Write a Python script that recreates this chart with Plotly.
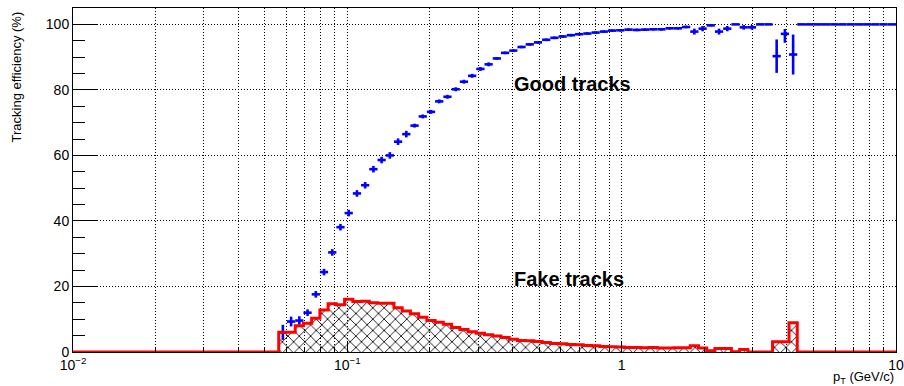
import numpy as np
import plotly.graph_objects as go

# ---- binning: 100 log bins from 1e-2 to 1e1 GeV/c ----
n_bins = 100
log_lo, log_hi = -2.0, 1.0

# ---- Good tracks efficiency (%) for bins 25..99 ----
good_first_bin = 25
good_eff = [6.0, 9.3, 9.6, 12.0, 17.6, 24.4, 30.4, 38.1, 42.4, 48.4,
            50.9, 55.8, 58.6, 60.0, 64.2, 66.5, 69.1, 71.9, 73.3, 76.5,
            77.9, 80.2, 82.5, 84.3, 86.4, 87.8, 89.6, 91.3, 92.0, 93.1,
            93.9, 94.5, 95.3, 95.9, 96.3, 96.7, 97.0, 97.2, 97.5, 97.8,
            98.1, 98.2, 98.4, 98.3, 98.4,
            98.5, 98.5, 98.8, 98.8, 99.2, 97.8, 98.7, 99.7, 97.8, 98.7,
            100.0, 99.1, 99.1, 100.0, 100.0, 90.3, 97.1, 90.8,
            100.0, 100.0, 100.0, 100.0, 100.0, 100.0, 100.0, 100.0, 100.0, 100.0, 100.0, 100.0]
good_err_up = [2.3, 1.5, 1.3, 1.0, 1.0, 1.0, 1.0, 1.0, 1.0, 1.0,
               1.0, 1.0, 1.0, 1.0, 1.0, 1.0, 0.6, 0.6, 0.6, 0.6,
               0.6, 0.6, 0.6, 0.6, 0.6, 0.6, 0.4, 0.4, 0.4, 0.4,
               0.4, 0.4, 0.4, 0.4, 0.4, 0.4, 0.4, 0.4, 0.4, 0.4,
               0.4, 0.4, 0.4, 0.4, 0.4,
               0.4, 0.4, 0.4, 0.4, 0.4, 0.9, 0.8, 0.3, 0.9, 0.8,
               0.0, 0.7, 0.7, 0.0, 0.0, 5.1, 1.5, 6.1,
               0, 0, 0, 0, 0, 0, 0, 0, 0, 0, 0, 0]
good_err_dn = [2.3, 1.5, 1.3, 1.0, 1.0, 1.0, 1.0, 1.0, 1.0, 1.0,
               1.0, 1.0, 1.0, 1.0, 1.0, 1.0, 0.6, 0.6, 0.6, 0.6,
               0.6, 0.6, 0.6, 0.6, 0.6, 0.6, 0.4, 0.4, 0.4, 0.4,
               0.4, 0.4, 0.4, 0.4, 0.4, 0.4, 0.4, 0.4, 0.4, 0.4,
               0.4, 0.4, 0.4, 0.4, 0.4,
               0.4, 0.4, 0.4, 0.4, 0.4, 0.9, 0.8, 0.3, 0.9, 0.8,
               0.0, 0.7, 0.7, 0.0, 0.0, 5.1, 2.7, 6.1,
               0, 0, 0, 0, 0, 0, 0, 0, 0, 0, 0, 0]

# ---- Fake tracks (%) for all 100 bins ----
fake_rate = [0.0] * 25 + [
    6.0, 6.0, 8.0, 8.8, 10.3, 12.8, 14.7, 14.4, 16.1, 15.4,
    15.5, 15.0, 14.9, 14.9, 13.5, 12.5, 11.7, 10.6, 9.6, 9.1,
    8.5, 7.5, 6.9, 6.2, 5.7, 5.3, 4.9, 4.4, 3.9, 3.5,
    3.4, 3.2, 2.9, 2.6, 2.5, 2.3, 2.2, 2.0, 1.9, 1.7,
    1.6, 1.5, 1.4, 1.4, 1.3, 1.4, 1.2, 1.2, 1.3, 1.3,
    1.9, 1.2, 0.4, 1.1, 1.1, 0.1, 0.8, 0.0, 0.0, 0.0,
    3.1, 3.1, 8.9] + [0.0] * 12

x_tickvals = [0.01, 0.1, 1, 10]
x_ticktext = ["10<sup>\u22122</sup>", "10<sup>\u22121</sup>", "1", "10"]
x_minor_vals = [m * 10.0 ** d for d in (-2, -1, 0) for m in range(2, 10)]

# ---- derived bin geometry ----
edges = 10 ** np.linspace(log_lo, log_hi, n_bins + 1)
centers = np.sqrt(edges[:-1] * edges[1:])
gi = np.arange(good_first_bin, good_first_bin + len(good_eff))
gx = centers[gi]
gxp = edges[gi + 1] - gx
gxm = gx - edges[gi]

step_x = list(edges)
step_y = list(fake_rate) + [fake_rate[-1]]

fig = go.Figure()

# hatched area of fake tracks
fig.add_trace(go.Scatter(
    x=step_x, y=step_y, mode="lines", line=dict(shape="hv", width=0, color="rgba(0,0,0,0)"),
    fill="tozeroy", fillcolor="rgba(0,0,0,0)",
    fillpattern=dict(shape="x", fgcolor="black", bgcolor="rgba(255,255,255,0)",
                     size=8, solidity=0.2, fillmode="replace"),
    hoverinfo="skip", showlegend=False))

# good tracks
fig.add_trace(go.Scatter(
    x=gx, y=good_eff, mode="markers",
    marker=dict(size=1, color="#0000ff"),
    error_x=dict(type="data", symmetric=False, array=gxp, arrayminus=gxm,
                 color="#0000ff", thickness=2.6, width=0),
    error_y=dict(type="data", symmetric=False, array=good_err_up, arrayminus=good_err_dn,
                 color="#0000ff", thickness=2.6, width=0),
    showlegend=False))

# fake tracks outline
fig.add_trace(go.Scatter(
    x=step_x, y=step_y, mode="lines", line=dict(shape="hv", width=3, color="#ff0000"),
    showlegend=False))

font_main = "Liberation Sans, Arial, Helvetica, sans-serif"

fig.update_layout(
    width=904, height=386,
    margin=dict(l=73, r=8, t=8, b=34, autoexpand=False),
    paper_bgcolor="white", plot_bgcolor="white",
    font=dict(family=font_main, size=14, color="black"),
    xaxis=dict(
        type="log", range=[log_lo, log_hi], automargin=False,
        showline=True, mirror=True, linecolor="black", linewidth=1,
        ticks="inside", ticklen=10, tickcolor="black", tickwidth=1,
        tickmode="array", tickvals=x_tickvals, ticktext=x_ticktext,
        tickfont=dict(size=14),
        showgrid=True, gridcolor="black", gridwidth=1, griddash="1px,2px",
        zeroline=False,
        minor=dict(tickmode="array", tickvals=x_minor_vals, ticks="inside", ticklen=5,
                   tickcolor="black", showgrid=True, gridcolor="black",
                   gridwidth=1, griddash="1px,2px"),
    ),
    yaxis=dict(
        range=[0, 105], tick0=0, dtick=20, automargin=False,
        showline=True, mirror=True, linecolor="black", linewidth=1,
        ticks="inside", ticklen=24, tickcolor="black", tickwidth=1,
        tickfont=dict(size=14),
        showgrid=True, gridcolor="black", gridwidth=1, griddash="1px,2px",
        zeroline=False,
        minor=dict(dtick=5, ticks="inside", ticklen=12, tickcolor="black", showgrid=False),
    ),
    annotations=[
        dict(text="<b>Good tracks</b>", x=-0.40, y=81.7, xref="x", yref="y",
             xanchor="left", yanchor="middle", showarrow=False,
             font=dict(size=20, family=font_main, color="black")),
        dict(text="<b>Fake tracks</b>", x=-0.40, y=22.2, xref="x", yref="y",
             xanchor="left", yanchor="middle", showarrow=False,
             font=dict(size=20, family=font_main, color="black")),
        dict(text="p<sub>T</sub> (GeV/c)", x=1, y=0, xref="paper", yref="paper",
             xanchor="right", yanchor="top", yshift=-15, showarrow=False,
             font=dict(size=13, family=font_main, color="black")),
        dict(text="Tracking efficiency (%)", x=0, y=1, xref="paper", yref="paper",
             xanchor="center", yanchor="top", xshift=-57, yshift=-2, textangle=-90,
             showarrow=False, font=dict(size=13, family=font_main, color="black")),
    ],
)

fig.write_html("out.html")
